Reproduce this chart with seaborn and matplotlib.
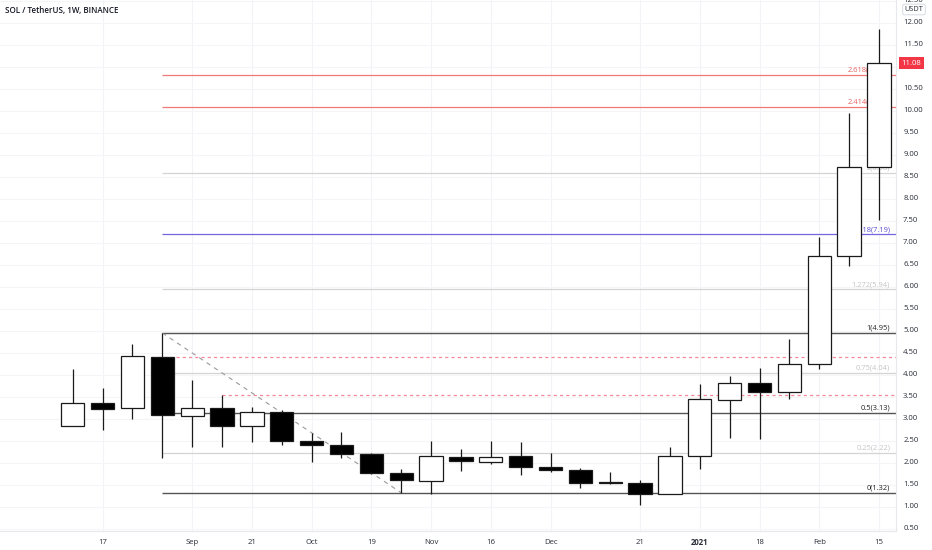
import matplotlib
matplotlib.use("Agg")
import matplotlib.pyplot as plt
import seaborn as sns
import pandas as pd
import numpy as np

# weekly candles SOL/USDT, week start dates
weeks = ["2020-08-10", "2020-08-17", "2020-08-24", "2020-08-31", "2020-09-07",
         "2020-09-14", "2020-09-21", "2020-09-28", "2020-10-05", "2020-10-12",
         "2020-10-19", "2020-10-26", "2020-11-02", "2020-11-09", "2020-11-16",
         "2020-11-23", "2020-11-30", "2020-12-07", "2020-12-14", "2020-12-21",
         "2020-12-28", "2021-01-04", "2021-01-11", "2021-01-18", "2021-01-25",
         "2021-02-01", "2021-02-08", "2021-02-15"]
opens = [2.83, 3.37, 3.25, 4.40, 3.07, 3.25, 2.84, 3.15, 2.50, 2.41,
         2.21, 1.77, 1.59, 2.13, 2.02, 2.15, 1.91, 1.83, 1.55, 1.54,
         1.28, 2.16, 3.43, 3.81, 3.62, 4.24, 6.69, 8.73]
highs = [4.13, 3.70, 4.70, 4.95, 3.87, 3.53, 3.27, 3.20, 2.68, 2.70,
         2.22, 1.85, 2.49, 2.32, 2.49, 2.47, 2.22, 1.88, 1.79, 1.60,
         2.37, 3.79, 3.98, 4.15, 4.81, 7.14, 9.94, 11.85]
lows = [2.83, 2.74, 3.00, 2.10, 2.37, 2.35, 2.47, 2.41, 2.01, 2.10,
        1.75, 1.32, 1.28, 1.81, 1.97, 1.73, 1.79, 1.43, 1.51, 1.03,
        1.28, 1.86, 2.57, 2.53, 3.45, 4.12, 6.48, 7.52]
closes = [3.37, 3.23, 4.42, 3.08, 3.25, 2.84, 3.15, 2.50, 2.41, 2.21,
          1.77, 1.60, 2.15, 2.03, 2.13, 1.91, 1.83, 1.54, 1.54, 1.28,
          2.16, 3.45, 3.81, 3.62, 4.24, 6.69, 8.71, 11.08]

# fibonacci extension levels drawn from the Aug 31 high
fib_levels = ["0", "0.25", "0.5", "0.75", "1", "1.272", "1.618", "2", "2.414", "2.618"]
fib_prices = [1.32, 2.22, 3.13, 4.04, 4.95, 5.94, 7.19, 8.58, 10.08, 10.82]
fib_colors = ["#555555", "#d4d4d4", "#555555", "#d4d4d4", "#555555",
              "#d4d4d4", "#7066e0", "#d4d4d4", "#f07878", "#f07878"]
fib_text_colors = ["#222222", "#c4c4c4", "#222222", "#c4c4c4", "#222222",
                   "#c4c4c4", "#5a4fd0", "#c4c4c4", "#e86060", "#e86060"]

# pink dashed horizontals and the down trend line
dash_prices = [4.40, 3.55]
dash_start = [2.62, 5.0]
trend_x = [3, 11]
trend_y = [4.95, 1.32]

price_ticks = [0.5, 1.0, 1.5, 2.0, 2.5, 3.0, 3.5, 4.0, 4.5, 5.0, 5.5, 6.0, 6.5,
               7.0, 7.5, 8.0, 8.5, 9.0, 9.5, 10.0, 10.5, 11.0, 11.5, 12.0, 12.5]
tick_pos = [1, 4, 6, 8, 10, 12, 14, 16, 19, 21, 23, 25, 27]
tick_text = ["17", "Sep", "21", "Oct", "19", "Nov", "16", "Dec", "21", "2021", "18", "Feb", "15"]

df = pd.DataFrame({"week": pd.to_datetime(weeks), "open": opens, "high": highs,
                   "low": lows, "close": closes})
df["idx"] = np.arange(len(df))
df["up"] = df["close"] >= df["open"]

sns.set_theme(style="white")
plt.rcParams["font.family"] = ["Open Sans", "DejaVu Sans"]

fig = plt.figure(figsize=(9.32, 5.5), dpi=100)
ax = fig.add_axes([0, 0.0345, 896 / 932, 0.9655])

x_left, x_right = -2.435, 27.57
ax.set_xlim(x_left, x_right)
ax.set_ylim(0.45, 12.515)

# faint grid
for t in tick_pos:
    ax.axvline(t, color="#f1f3f6", lw=0.8, zorder=0)
for v in price_ticks:
    ax.axhline(v, color="#f4f5f7", lw=0.8, zorder=0)

# fib lines + labels (labels sit behind the candles)
for lvl, p, c, tc in zip(fib_levels, fib_prices, fib_colors, fib_text_colors):
    lw = 1.0 if c == "#555555" else 0.9
    ax.hlines(p, 3, x_right, color=c, lw=lw, zorder=1)
    ax.text(27.37, p + 0.03, f"{lvl}({p:.2f})", color=tc, fontsize=5.4,
            ha="right", va="bottom", zorder=1.5)

for p, s in zip(dash_prices, dash_start):
    ax.hlines(p, s, x_right, color="#f4889a", lw=0.9, linestyles=(0, (2.5, 2.5)), zorder=1)

sns.lineplot(x=trend_x, y=trend_y, ax=ax, color="#9a9a9a", lw=0.8,
             linestyle=(0, (4, 4)), zorder=1)

# candles
body_w = 0.78
ax.vlines(df["idx"], df["low"], df["high"], color="#1a1a1a", lw=0.9, zorder=2)
body_bottom = df[["open", "close"]].min(axis=1)
body_h = (df["close"] - df["open"]).abs().clip(lower=0.015)
face = np.where(df["up"], "white", "black")
ax.bar(df["idx"], body_h, bottom=body_bottom, width=body_w, color=face,
       edgecolor="#1a1a1a", linewidth=0.9, zorder=3)

# axes styling
for side in ["top", "left"]:
    ax.spines[side].set_visible(False)
ax.spines["right"].set_color("#e6e8ec")
ax.spines["right"].set_linewidth(0.8)
ax.spines["bottom"].set_color("#e6e8ec")
ax.spines["bottom"].set_linewidth(0.8)
ax.set_xticks([])
ax.set_yticks([])
ax.set_xlabel("")
ax.set_ylabel("")

# price scale; 11.00 sits under the last-price tag
for v in price_ticks:
    if abs(v - 11.0) < 1e-9:
        continue
    ax.text(1.008, v, f"{v:.2f}", transform=ax.get_yaxis_transform(), ha="left",
            va="center", fontsize=5.6, color="#2a2e39", clip_on=False)

# time scale
for t, s in zip(tick_pos, tick_text):
    ax.text(t, -0.019, s, transform=ax.get_xaxis_transform(), ha="center",
            va="center_baseline", fontsize=5.6, color="#2a2e39", clip_on=False,
            fontweight="bold" if s == "2021" else "normal")

# last price tag
ax.annotate(f"{closes[-1]:.2f}", xy=(1.0, closes[-1]), xycoords=("axes fraction", "data"),
            xytext=(4, 0), textcoords="offset points", ha="left", va="center",
            fontsize=5.6, color="white",
            bbox=dict(boxstyle="square,pad=0.3", fc="#f23645", ec="none"))

fig.text(914 / 932, 1 - 9.5 / 550, "USDT", fontsize=5.3, color="#2a2e39", ha="center",
         va="center", bbox=dict(boxstyle="round,pad=0.25", fc="white", ec="#d1d4dc", lw=0.6))
fig.text(5 / 932, 1 - 11 / 550, "SOL / TetherUS, 1W, BINANCE", fontsize=5.8,
         color="#131722", ha="left", va="center", fontweight="semibold")

fig.savefig("out.png", dpi=100)
